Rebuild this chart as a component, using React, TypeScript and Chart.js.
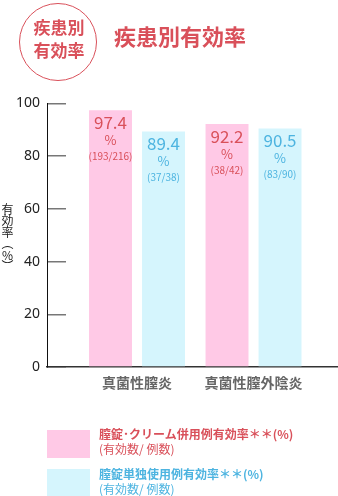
import React, { useEffect, useRef } from "react";
import { Chart, registerables } from "chart.js";

Chart.register(...registerables);

const FONT = "'Noto Sans CJK JP', 'Noto Sans', sans-serif";
const NARROW = "'Liberation Sans Narrow', 'Noto Sans CJK JP', sans-serif";
const RED = "#d9505a";
const BLUE = "#4db4e0";
const PINK = "#ffc9e6";
const CYAN = "#d5f5fd";

const categories = ["真菌性膣炎", "真菌性膣外陰炎"];
const combinedRates = [97.4, 92.2];
const combinedCounts = ["(193/216)", "(38/42)"];
const singleRates = [89.4, 90.5];
const singleCounts = ["(37/38)", "(83/90)"];
const yTickValues = [0, 20, 40, 60, 80, 100];
const seriesLabels = ["膣錠･クリーム併用例有効率＊＊(%)", "膣錠単独使用例有効率＊＊(%)"];
const seriesSubLabel = "(有効数/ 例数)";

const rates = [combinedRates, singleRates];
const counts = [combinedCounts, singleCounts];
const textColors = [RED, BLUE];
const fillColors = [PINK, CYAN];

const barLabelPlugin = {
  id: "barLabels",
  afterDatasetsDraw(chart: any) {
    const ctx = chart.ctx;
    chart.data.datasets.forEach((_ds: any, di: number) => {
      const meta = chart.getDatasetMeta(di);
      meta.data.forEach((el: any, i: number) => {
        const { x, y } = el.getProps(["x", "y"], true);
        ctx.save();
        ctx.fillStyle = textColors[di];
        ctx.textAlign = "center";
        ctx.textBaseline = "middle";
        ctx.font = `17px ${NARROW}`;
        ctx.fillText(rates[di][i].toFixed(1), x, y + 12);
        ctx.font = `13px ${FONT}`;
        ctx.fillText("%", x, y + 30);
        ctx.font = `10px ${FONT}`;
        ctx.fillText(counts[di][i], x, y + 46);
        ctx.restore();
      });
    });
  },
};

export default function App() {
  const canvasRef = useRef<HTMLCanvasElement | null>(null);

  useEffect(() => {
    if (!canvasRef.current) return;
    const chart = new Chart(canvasRef.current, {
      type: "bar",
      data: {
        datasets: rates.map((vals, di) => ({
          label: seriesLabels[di],
          data: vals.map((v, i) => ({ x: i + 1, y: v })),
          backgroundColor: fillColors[di],
          borderWidth: 0,
          categoryPercentage: 0.91,
          barPercentage: 0.81,
        })),
      },
      options: {
        animation: false,
        responsive: true,
        maintainAspectRatio: false,
        layout: { padding: { left: 0, right: 0, top: 103.5, bottom: 99 } },
        plugins: { legend: { display: false }, tooltip: { enabled: false } },
        scales: {
          x: {
            type: "linear",
            min: 0.2275,
            max: 2.725,
            bounds: "data",
            offset: false,
            grid: { display: false, drawTicks: false, offset: false },
            border: { display: true, color: "#333", width: 1.5 },
            afterBuildTicks: (scale: any) => {
              scale.ticks = categories.map((_c, i) => ({ value: i + 1 }));
            },
            afterFit: (scale: any) => {
              scale.height = 30;
            },
            ticks: {
              autoSkip: false,
              maxRotation: 0,
              padding: 7,
              color: "#666",
              font: { family: FONT, size: 14, weight: "bold" },
              callback: (value: any) => categories[Math.round(Number(value)) - 1] ?? "",
            },
          },
          y: {
            min: 0,
            max: 100,
            afterBuildTicks: (scale: any) => {
              scale.ticks = yTickValues.map((v) => ({ value: v }));
            },
            afterFit: (scale: any) => {
              scale.width = 47;
            },
            grid: {
              display: true,
              drawOnChartArea: false,
              drawTicks: true,
              tickLength: -19,
              color: "#777",
              lineWidth: 1.5,
            },
            border: { display: true, color: "#111", width: 1 },
            ticks: {
              padding: 26,
              color: "#222",
              font: { family: "'Noto Sans', sans-serif", size: 14 },
            },
          },
        },
      } as any,
      plugins: [barLabelPlugin],
    });
    return () => chart.destroy();
  }, []);

  const abs = (style: React.CSSProperties): React.CSSProperties => ({
    position: "absolute",
    fontFamily: FONT,
    ...style,
  });

  return (
    <div style={{ position: "absolute", left: 0, top: 0, width: 338, height: 496, overflow: "hidden", background: "#fff" }}>
      <div style={{ position: "absolute", left: 0, top: 0, width: 338, height: 496 }}>
        <canvas ref={canvasRef} />
      </div>
      <div
        style={abs({
          left: 19,
          top: 3,
          width: 78,
          height: 78,
          boxSizing: "border-box",
          border: `1.2px solid ${RED}`,
          borderRadius: "50%",
        })}
      />
      <div
        style={abs({
          left: 19,
          top: 15,
          width: 80,
          textAlign: "center",
          color: RED,
          fontSize: 17,
          fontWeight: "bold",
          lineHeight: "23px",
        })}
      >
        疾患別
        <br />
        有効率
      </div>
      <div
        style={abs({
          left: 114,
          top: 22,
          color: RED,
          fontSize: 22,
          fontWeight: "bold",
          lineHeight: "26px",
          whiteSpace: "nowrap",
        })}
      >
        疾患別有効率
      </div>
      <div
        style={abs({
          left: 1,
          top: 203,
          writingMode: "vertical-rl",
          textOrientation: "upright",
          fontSize: 12,
          lineHeight: "13px",
          color: "#222",
          letterSpacing: "-0.5px",
        })}
      >
        有効率（%）
      </div>
      {seriesLabels.map((lab, i) => (
        <React.Fragment key={i}>
          <div style={abs({ left: 47, top: 430 + i * 38.5, width: 43, height: 28, background: fillColors[i] })} />
          <div
            style={abs({
              left: 99,
              top: 425.5 + i * 40,
              color: textColors[i],
              fontSize: 12,
              lineHeight: "15.5px",
              whiteSpace: "nowrap",
            })}
          >
            <div style={{ fontWeight: "bold" }}>{lab}</div>
            <div>{seriesSubLabel}</div>
          </div>
        </React.Fragment>
      ))}
    </div>
  );
}
